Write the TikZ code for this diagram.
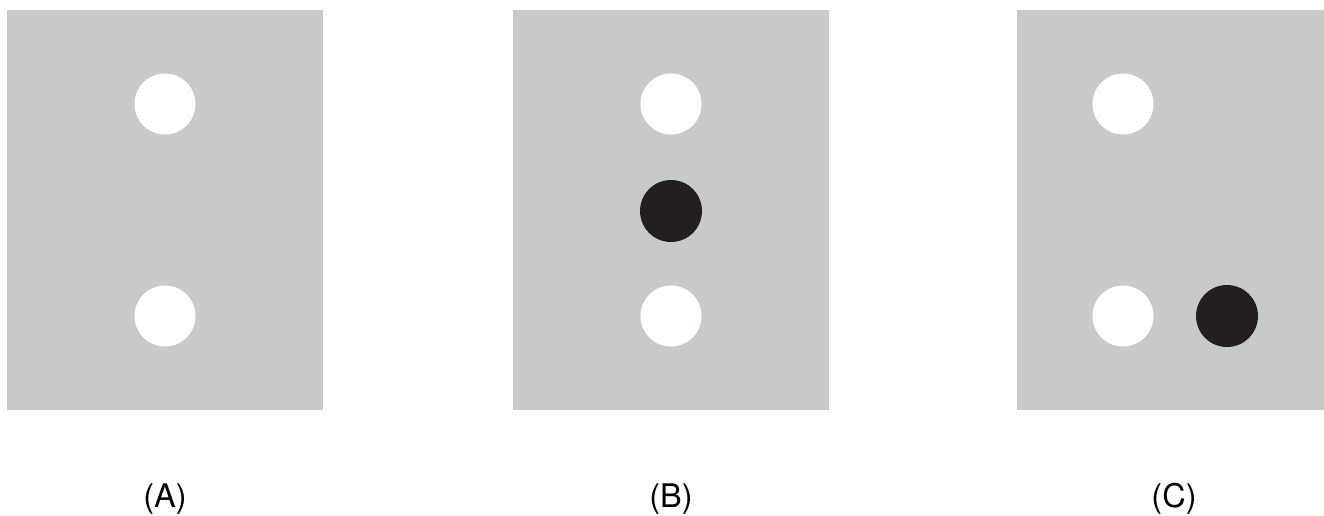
\documentclass[tikz,border=0pt]{standalone}
\usepackage{fontspec}
\setmainfont{TeX Gyre Heros}
\definecolor{panelgray}{HTML}{C8C9CB}
\definecolor{dotblack}{HTML}{231F20}
\begin{document}
\begin{tikzpicture}[x=1pt,y=-1pt,
  panel/.style={fill=panelgray},
  wdot/.style={circle,fill=white,minimum size=61pt,inner sep=0pt},
  bdot/.style={circle,fill=dotblack,minimum size=62pt,inner sep=0pt},
  lab/.style={font=\fontsize{32.5}{34}\selectfont,inner sep=0pt}]
\useasboundingbox (0,0) rectangle (1324,515);
\fill[panel] (7,10) rectangle (323,410);
\fill[panel] (513,10) rectangle (829,410);
\fill[panel] (1017,10) rectangle (1333,410);
% A
\node[wdot] (a1) at (165,104) {};
\node[wdot] (a2) at (165,316) {};
% B
\node[wdot] (b1) at (671,104) {};
\node[bdot] (b2) at (671,211) {};
\node[wdot] (b3) at (671,316) {};
% C
\node[wdot] (c1) at (1123,104) {};
\node[wdot] (c2) at (1123,316) {};
\node[bdot] (c3) at (1227,316) {};
% labels
\node[lab] (la) at (165,499) {(A)};
\node[lab] (lb) at (671,499) {(B)};
\node[lab] (lc) at (1174,499) {(C)};
\end{tikzpicture}
\end{document}
